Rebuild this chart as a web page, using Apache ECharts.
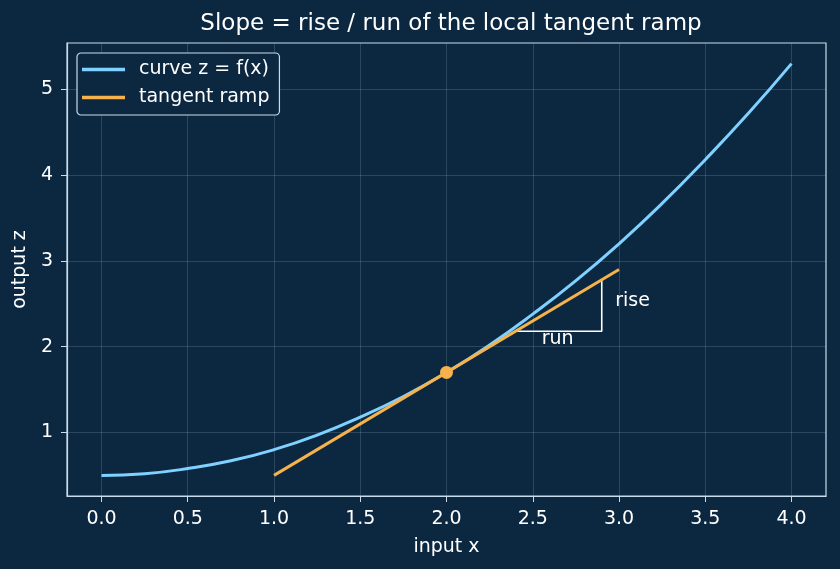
<!DOCTYPE html>
<html>
<head>
<meta charset="utf-8">
<script src="https://cdn.jsdelivr.net/npm/echarts@6/dist/echarts.min.js"></script>
<style>
  html, body { margin: 0; padding: 0; background: #0c2740; }
  #chart { width: 840px; height: 569px; }
</style>
</head>
<body>
<div id="chart"></div>
<script>
// curve z = f(x)
const curveX = [0, 0.25, 0.5, 0.75, 1.0, 1.25, 1.5, 1.75, 2.0, 2.25, 2.5, 2.75, 3.0, 3.25, 3.5, 3.75, 4.0]
const curveZ = [0.50, 0.52, 0.58, 0.67, 0.80, 0.97, 1.18, 1.42, 1.70, 2.02, 2.38, 2.77, 3.20, 3.67, 4.18, 4.72, 5.30]

// tangent ramp ends
const tangentX = [1.0, 3.0]
const tangentZ = [0.5, 2.9]

// touching point
const touchPoint = [2.0, 1.7]

// rise / run triangle
const triangleX = [2.4, 2.9, 2.9]
const triangleZ = [2.18, 2.18, 2.78]

// tick labels
const xTicks = [0, 0.5, 1.0, 1.5, 2.0, 2.5, 3.0, 3.5, 4.0]
const yTicks = [1, 2, 3, 4, 5]

const fg = '#c9dcec'
const font = 'DejaVu Sans'
const gridLine = 'rgba(200,220,240,0.22)'

const chart = echarts.init(document.getElementById('chart'))

const option = {
  backgroundColor: '#0c2740',
  animation: false,
  textStyle: { fontFamily: font },
  title: {
    text: 'Slope = rise / run of the local tangent ramp',
    left: 446,
    top: 8,
    textAlign: 'center',
    textStyle: { color: '#ffffff', fontSize: 23, fontWeight: 'normal', fontFamily: font },
  },
  legend: {
    orient: 'vertical',
    left: 77,
    top: 53,
    padding: [7, 10, 8, 5],
    itemGap: 9,
    itemWidth: 43,
    itemHeight: 3.5,
    icon: 'rect',
    borderColor: fg,
    borderWidth: 1.2,
    borderRadius: 4,
    backgroundColor: '#0c2740',
    textStyle: { color: '#ffffff', fontSize: 19, fontFamily: font, padding: [0, 0, 0, 9] },
    data: ['curve z = f(x)', 'tangent ramp'],
  },
  grid: {
    left: 67,
    right: 14,
    top: 43,
    bottom: 73,
    show: true,
    borderColor: fg,
    borderWidth: 1.2,
    backgroundColor: 'transparent',
  },
  xAxis: {
    type: 'value',
    min: -0.2,
    max: 4.2,
    splitNumber: 8,
    name: 'input x',
    nameLocation: 'middle',
    nameGap: 42,
    nameTextStyle: { color: '#ffffff', fontSize: 19, fontFamily: font },
    axisLine: { show: true, onZero: false, lineStyle: { color: fg, width: 1.2 } },
    axisTick: { show: true, length: 6, lineStyle: { color: fg }, customValues: xTicks },
    axisLabel: {
      color: '#ffffff', fontSize: 19, margin: 14, fontFamily: font,
      customValues: xTicks,
      formatter: v => v.toFixed(1),
    },
    splitLine: { show: true, lineStyle: { color: gridLine, width: 0.8 } },
  },
  yAxis: {
    type: 'value',
    min: 0.26,
    max: 5.54,
    name: 'output z',
    nameLocation: 'middle',
    nameGap: 33,
    nameTextStyle: { color: '#ffffff', fontSize: 19, fontFamily: font },
    axisLine: { show: true, onZero: false, lineStyle: { color: fg, width: 1.2 } },
    axisTick: { show: true, length: 6, lineStyle: { color: fg }, customValues: yTicks },
    axisLabel: {
      color: '#ffffff', fontSize: 19, margin: 14, fontFamily: font,
      customValues: yTicks,
      formatter: v => String(Math.round(v)),
    },
    splitLine: { show: true, lineStyle: { color: gridLine, width: 0.8 } },
  },
  series: [
    {
      name: 'curve z = f(x)',
      type: 'line',
      smooth: true,
      showSymbol: false,
      color: '#7fd1ff',
      lineStyle: { width: 3, color: '#7fd1ff' },
      data: curveX.map((x, i) => [x, curveZ[i]]),
      z: 3,
    },
    {
      name: 'tangent ramp',
      type: 'line',
      showSymbol: false,
      color: '#f6b24c',
      lineStyle: { width: 3, color: '#f6b24c' },
      data: tangentX.map((x, i) => [x, tangentZ[i]]),
      z: 4,
    },
    {
      name: 'triangle',
      type: 'line',
      showSymbol: false,
      lineStyle: { width: 1.6, color: '#ffffff' },
      data: triangleX.map((x, i) => [x, triangleZ[i]]),
      z: 2,
    },
    {
      name: 'point',
      type: 'scatter',
      symbolSize: 13,
      itemStyle: { color: '#f6b24c', opacity: 1 },
      data: [touchPoint],
      z: 5,
    },
    {
      name: 'labels',
      type: 'scatter',
      symbolSize: 0,
      itemStyle: { opacity: 1 },
      label: {
        show: true,
        formatter: '{b}',
        color: '#ffffff',
        fontSize: 19,
        fontFamily: font,
      },
      data: [
        { name: 'run', value: [2.644, 2.09], label: { position: 'inside' } },
        { name: 'rise', value: [2.978, 2.53], label: { position: 'right', distance: 0 } },
      ],
      z: 6,
    },
  ],
}

chart.setOption(option)
</script>
</body>
</html>
